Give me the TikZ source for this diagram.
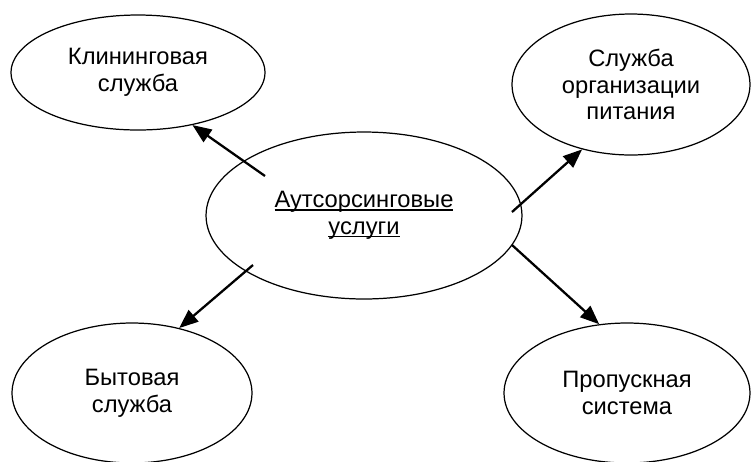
\documentclass[tikz,border=0pt]{standalone}
\usepackage{fontspec}
\setmainfont{Liberation Sans}
\usetikzlibrary{arrows.meta,shapes.geometric}

\newcommand{\ulword}[1]{\setbox0\hbox{#1}\rlap{\rule[-1.6pt]{\wd0}{0.8pt}}\box0}

\begin{document}
\begin{tikzpicture}[
		x=0.02cm,
		y=-0.02cm,
		->,
		>={Triangle[length=0.38cm,width=0.3cm]},
		line width=1.3pt,
		main node/.style={ellipse,draw,line width=0.7pt,inner sep=0pt,align=center,font=\fontsize{13.5}{15.3}\selectfont}]

	\useasboundingbox (0,0) rectangle (751,461);

	\node[main node, minimum width=6.32cm, minimum height=3.34cm] (a0) at (364,215.5) {\ulword{Аутсорсинговые}\\\ulword{услуги}};

	\node[main node, minimum width=5.08cm, minimum height=2.3cm] (s1) at (138,72.5) {Клининговая\\служба};
	\node[main node, minimum width=4.76cm, minimum height=2.82cm] (s2) at (631,84.5) {Служба\\организации\\питания};
	\node[main node, minimum width=4.8cm, minimum height=2.8cm] (s3) at (132,393) {Бытовая\\служба};
	\node[main node, minimum width=4.92cm, minimum height=2.8cm] (s4) at (627,393) {Пропускная\\система};

	% free ends of the arrows, inside the middle ellipse
	\coordinate (f1) at (265,176);
	\coordinate (f2) at (512,212);
	\coordinate (f3) at (253,265);
	\coordinate (f4) at (512,245);

	\path
		(f1) edge (s1.-44)
		(f2) edge (s2.233)
		(f3) edge (s3.54)
		(f4) edge (s4.112)
	;
\end{tikzpicture}
\end{document}
